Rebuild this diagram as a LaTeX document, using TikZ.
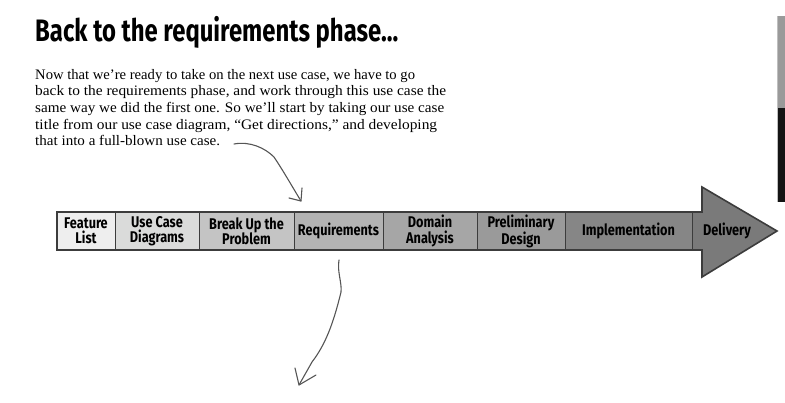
\documentclass[tikz,border=0pt]{standalone}
\usepackage{fontspec}
\setmainfont{Liberation Serif}
\newfontfamily\markerfont{Fira Sans}[FakeStretch=0.82]
\newfontfamily\headfont{Fira Sans}[FakeStretch=0.77]
\definecolor{inkgray}{HTML}{555555}
\definecolor{barline}{HTML}{3C3C3C}
\definecolor{phaseA}{HTML}{EEEEEE}
\definecolor{phaseB}{HTML}{DADBDA}
\definecolor{phaseC}{HTML}{C4C4C4}
\definecolor{phaseD}{HTML}{B3B3B3}
\definecolor{phaseE}{HTML}{A6A6A6}
\definecolor{phaseF}{HTML}{9A9A9A}
\definecolor{phaseG}{HTML}{868686}
\definecolor{phaseH}{HTML}{7A7A7A}
% one paragraph line, widened horizontally by a factor
% #1 node name, #2 baseline y, #3 horizontal factor, #4 text
\newcommand\paraline[4]{%
  \begin{scope}[shift={(35,#2)}, xscale=#3]
    \node[bodyline, transform shape] (#1) at (0,0) {#4};
  \end{scope}}
\tikzset{
  bodyline/.style={anchor=base west, inner sep=0pt, font=\fontsize{14.5}{16.7}\selectfont},
  phasebox/.style={draw=barline, line width=0.5pt, minimum height=38pt, inner sep=0pt,
    align=center, font=\markerfont\bfseries\fontsize{15.5}{15.5}\selectfont},
  phaselabel/.style={inner sep=0pt, align=center, font=\markerfont\bfseries\fontsize{15.5}{15.5}\selectfont},
  hand/.style={draw=inkgray, line width=1.1pt, line cap=round, line join=round},
}
\begin{document}
\begin{tikzpicture}[x=1pt,y=-1pt]
\useasboundingbox (0,0) rectangle (785,402);

% heading
\node[anchor=base west, inner sep=0pt, font=\headfont\bfseries\fontsize{31}{34}\selectfont] (title) at (35,41) {Back to the requirements phase...};

% introductory paragraph
\paraline{l1}{79.0}{1.009}{Now that we’re ready to take on the next use case, we have to go}
\paraline{l2}{95.7}{1.061}{back to the requirements phase, and work through this use case the}
\paraline{l3}{112.4}{1.045}{same way we did the first one. So we’ll start by taking our use case}
\paraline{l4}{129.1}{1.063}{title from our use case diagram, “Get directions,” and developing}
\paraline{l5}{145.8}{1.039}{that into a full-blown use case.}

% process arrow: body and head
\fill[phaseH] (57,212) -- (702,212) -- (702,187) -- (777,231) -- (702,277) -- (702,250) -- (57,250) -- cycle;
\node[phasebox, fill=phaseA, minimum width=58pt] (p1) at (86,231) {Feature\\List};
\node[phasebox, fill=phaseB, minimum width=84pt] (p2) at (157,231) {Use Case\\Diagrams};
\node[phasebox, fill=phaseC, minimum width=95pt] (p3) at (246.5,231) {Break Up the\\Problem};
\node[phasebox, fill=phaseD, minimum width=89pt] (p4) at (338.5,231) {Requirements};
\node[phasebox, fill=phaseE, minimum width=94pt] (p5) at (430,231) {Domain\\Analysis};
\node[phasebox, fill=phaseF, minimum width=88pt] (p6) at (521,231) {Preliminary\\Design};
\node[phasebox, fill=phaseG, minimum width=127pt] (p7) at (628.5,231) {Implementation};
\node[phaselabel] (p8) at (727,231) {Delivery};
\draw[barline, line width=1.6pt, line join=miter] (57,212) -- (702,212) -- (702,187) -- (777,231) -- (702,277) -- (702,250) -- (57,250) -- cycle;

% hand-drawn pointers
\coordinate (a1s) at (234,144);
\coordinate (a1t) at (301,201);
\draw[hand] (a1s) .. controls (250,141) and (265,148) .. (274,157) .. controls (284,172) and (293,188) .. (a1t);
\draw[hand] (289,198) -- (a1t) -- (302,188);

\coordinate (a2s) at (339,260);
\coordinate (a2t) at (299,385);
\draw[hand] (a2s) .. controls (337,272) and (342,282) .. (341,292) .. controls (333,325) and (325,345) .. (312,362) -- (a2t);
\draw[hand] (295,368) -- (a2t) -- (316,375);

% page edge tab
\fill[phaseF] (777,16) rectangle (785,108);
\fill[black!92] (777,108) rectangle (785,202);
\draw[black!25, line width=0.5pt] (777.3,16) -- (777.3,202);
\end{tikzpicture}
\end{document}
